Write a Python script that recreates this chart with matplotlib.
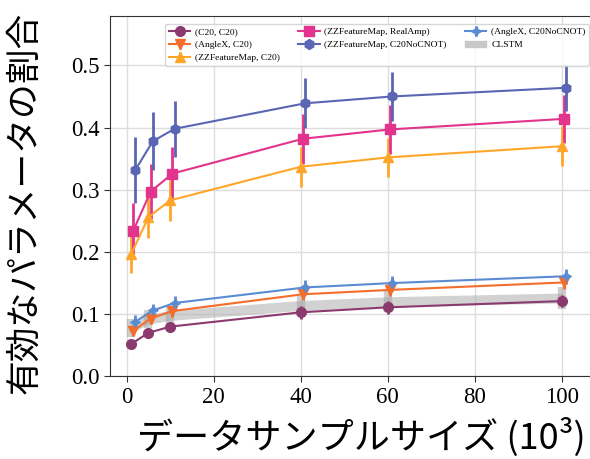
import numpy as np
import matplotlib
matplotlib.use('Agg')
import matplotlib.pyplot as plt

# データ (サンプル数, 10^3)
sizes = [1, 5, 10, 40, 60, 100]

labels = ['(C20, C20)', '(AngleX, C20)', '(ZZFeatureMap, C20)',
          '(ZZFeatureMap, RealAmp)', '(ZZFeatureMap, C20NoCNOT)',
          '(AngleX, C20NoCNOT)']

c20_c20 = [0.052, 0.070, 0.080, 0.103, 0.111, 0.121]
c20_c20_err = [0.006, 0.007, 0.008, 0.010, 0.010, 0.010]
anglex_c20 = [0.073, 0.093, 0.105, 0.132, 0.139, 0.151]
anglex_c20_err = [0.008, 0.009, 0.010, 0.010, 0.010, 0.010]
zz_c20 = [0.196, 0.256, 0.283, 0.337, 0.352, 0.370]
zz_c20_err = [0.030, 0.033, 0.033, 0.032, 0.032, 0.032]
zz_realamp = [0.234, 0.297, 0.326, 0.382, 0.397, 0.414]
zz_realamp_err = [0.044, 0.044, 0.043, 0.040, 0.039, 0.039]
zz_nocnot = [0.332, 0.378, 0.398, 0.439, 0.450, 0.464]
zz_nocnot_err = [0.053, 0.047, 0.045, 0.040, 0.039, 0.037]
anglex_nocnot = [0.088, 0.106, 0.118, 0.143, 0.150, 0.161]
anglex_nocnot_err = [0.010, 0.011, 0.012, 0.012, 0.012, 0.012]

clstm = [0.078, 0.092, 0.098, 0.114, 0.120, 0.126]
clstm_band = [0.008, 0.008, 0.008, 0.008, 0.008, 0.008]
clstm_err = [0.014, 0.014, 0.015, 0.016, 0.017, 0.018]

series = [c20_c20, anglex_c20, zz_c20, zz_realamp, zz_nocnot, anglex_nocnot]
errors = [c20_c20_err, anglex_c20_err, zz_c20_err, zz_realamp_err, zz_nocnot_err, anglex_nocnot_err]

colors = ['#8b3a6f', '#f46d2b', '#ffa629', '#e2338d', '#5a66b4', '#5b8bd0']
markers = ['o', 'v', '^', 's', 'h', (4, 1, 0)]
dodge = [0.0, 0.5, 0.0, 0.5, 1.0, 1.0]

plt.rcParams['font.family'] = ['Liberation Serif', 'DejaVu Serif']

fig = plt.figure(figsize=(5.9, 4.59), dpi=100)
ax = fig.add_axes([0.186, 0.180, 0.814, 0.786])

x = np.array(sizes, dtype=float)

# CLSTM (灰色の帯)
clstm_arr = np.array(clstm)
band = np.array(clstm_band)
ax.fill_between(x, clstm_arr - band, clstm_arr + band, color='#b5b5b5', alpha=0.6, lw=0, zorder=2)
ax.errorbar(x, clstm, yerr=clstm_err, fmt='none', ecolor='#a0a0a0', elinewidth=6, alpha=0.5, zorder=2)

handles = []
for vals, err, col, mk, off, lab in zip(series, errors, colors, markers, dodge, labels):
    h = ax.errorbar(x + off, vals, yerr=err, color=col, marker=mk, markersize=7,
                    lw=1.5, elinewidth=2.0, capsize=0, label=lab, zorder=3)
    handles.append(h)

clstm_handle = plt.Rectangle((0, 0), 1, 1, color='#c8c8c8')
order = handles + [clstm_handle]
ax.legend(order, labels + ['CLSTM'], ncol=3, loc='upper left', bbox_to_anchor=(0.105, 0.99),
          fontsize=6.8, frameon=True, edgecolor='#cccccc', borderpad=0.4,
          handlelength=2.3, handletextpad=0.5, columnspacing=1.9, labelspacing=0.45)

ax.set_xlim(-3.9, 106.5)
ax.set_ylim(0, 0.58)
ax.set_xticks([0, 20, 40, 60, 80, 100])
ax.set_yticks([0.0, 0.1, 0.2, 0.3, 0.4, 0.5])
ax.set_yticklabels(['0.0', '0.1', '0.2', '0.3', '0.4', '0.5'])
ax.tick_params(labelsize=16.5, length=4, color='#333333')
ax.grid(True, color='#dddddd', lw=1.0)
ax.set_axisbelow(True)
for s in ['left', 'bottom', 'top']:
    ax.spines[s].set_color('#333333')
ax.spines['right'].set_visible(False)

jp = ['Noto Sans CJK JP', 'DejaVu Sans']
ax.set_xlabel('データサンプルサイズ (10³)', fontsize=26, family=jp)
ax.set_ylabel('有効なパラメータの割合', fontsize=25, family=jp)
ax.xaxis.set_label_coords(0.523, -0.115)
ax.yaxis.set_label_coords(-0.14, 0.48)

fig.savefig('out.png', dpi=100)
